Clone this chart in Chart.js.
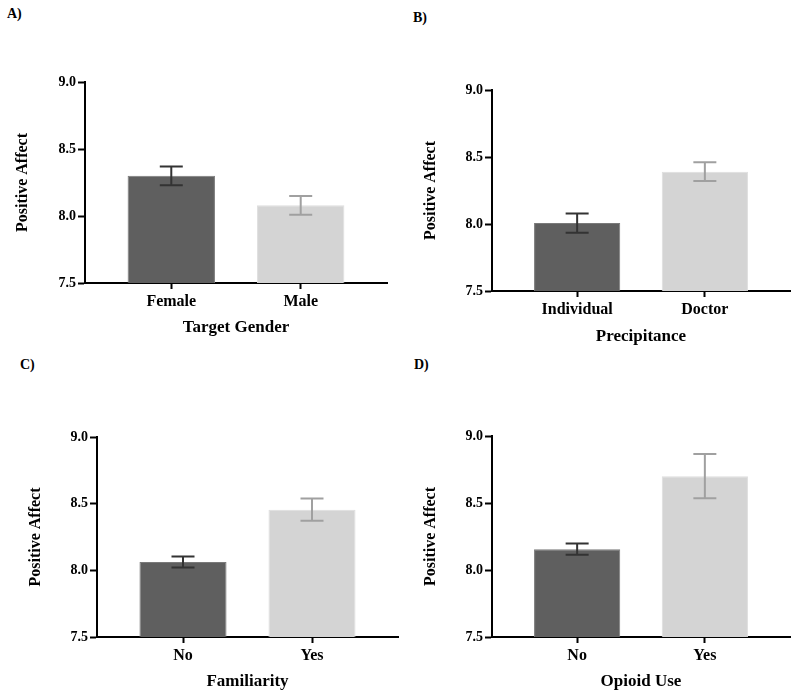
<!DOCTYPE html>
<html>
<head>
<meta charset="utf-8">
<script src="https://cdn.jsdelivr.net/npm/chart.js@4"></script>
<style>
  body { margin: 0; background: #fff; }
  #page { position: relative; width: 800px; height: 697px; }
  .panel { position: absolute; width: 400px; }
  .tag { position: absolute; font: bold 14px "Liberation Serif", serif; color: #000; }
</style>
</head>
<body>
<div id="page">
  <div class="tag" style="left:7px;top:6px">A)</div>
  <div class="tag" style="left:413px;top:10px">B)</div>
  <div class="tag" style="left:20px;top:357px">C)</div>
  <div class="tag" style="left:414px;top:357px">D)</div>
  <div class="panel" style="left:0;top:0;height:345px"><canvas id="chartA"></canvas></div>
  <div class="panel" style="left:400px;top:0;height:345px"><canvas id="chartB"></canvas></div>
  <div class="panel" style="left:0;top:345px;height:352px"><canvas id="chartC"></canvas></div>
  <div class="panel" style="left:400px;top:345px;height:352px"><canvas id="chartD"></canvas></div>
</div>
<script>
// values (mean +/- error)
const yTicks = [7.5, 8.0, 8.5, 9.0];

const genderLabels = ['Female', 'Male'];
const genderMeans = [8.30, 8.08];
const genderErrors = [0.07, 0.07];

const precipLabels = ['Individual', 'Doctor'];
const precipMeans = [8.007, 8.39];
const precipErrors = [0.072, 0.07];

const familiarLabels = ['No', 'Yes'];
const familiarMeans = [8.062, 8.455];
const familiarErrors = [0.041, 0.083];

const opioidLabels = ['No', 'Yes'];
const opioidMeans = [8.155, 8.70];
const opioidErrors = [0.042, 0.165];

const barColors = ['#5f5f5f', '#d4d4d4'];
const barEdges = ['#7a7a7a', '#dedede'];
const errColors = ['#333333', '#a0a0a0'];

const serif = '"Liberation Serif", "Times New Roman", serif';

// draws the mean +/- error whiskers over each bar
const errorBars = {
    id: 'errorBars',
    afterDatasetsDraw(chart, args, opts) {
        const ctx = chart.ctx;
        const yScale = chart.scales.y;
        const meta = chart.getDatasetMeta(0);
        const values = chart.data.datasets[0].data;
        meta.data.forEach((bar, i) => {
            const v = values[i].y;
            const top = yScale.getPixelForValue(v + opts.errors[i]);
            const bot = yScale.getPixelForValue(v - opts.errors[i]);
            const half = 11.5;
            ctx.save();
            ctx.strokeStyle = errColors[i];
            ctx.lineWidth = 2;
            ctx.beginPath();
            ctx.moveTo(bar.x, top);
            ctx.lineTo(bar.x, bot);
            ctx.moveTo(bar.x - half, top);
            ctx.lineTo(bar.x + half, top);
            ctx.moveTo(bar.x - half, bot);
            ctx.lineTo(bar.x + half, bot);
            ctx.stroke();
            ctx.restore();
        });
    }
};

// area = chart area inside the panel canvas, yTitleX / xTitleY = centres of the axis titles
function makePanel(id, cats, means, errors, xTitle, area, yTitleX, xTitleY, height) {
    const width = 400;
    new Chart(document.getElementById(id), {
        type: 'bar',
        data: {
            datasets: [{
                data: means.map((m, i) => ({ x: i, y: m })),
                backgroundColor: barColors,
                borderColor: barEdges,
                borderWidth: 1,
                categoryPercentage: 1,
                barPercentage: 0.675
            }]
        },
        options: {
            responsive: true,
            maintainAspectRatio: false,
            animation: false,
            events: [],
            layout: { padding: { left: 0, top: area.top, right: width - area.right, bottom: 0 } },
            plugins: {
                legend: { display: false },
                tooltip: { enabled: false },
                errorBars: { errors: errors }
            },
            scales: {
                x: {
                    type: 'linear',
                    bounds: 'data',
                    offset: false,
                    min: -2 / 3,
                    max: 5 / 3,
                    afterBuildTicks: (scale) => { scale.ticks = cats.map((c, i) => ({ value: i })); },
                    afterFit: (scale) => { scale.height = height - area.bottom; },
                    grid: { offset: false, drawOnChartArea: false, drawTicks: true, tickLength: 6, tickColor: '#000', tickWidth: 2 },
                    border: { display: true, color: '#000', width: 2 },
                    ticks: {
                        color: '#000',
                        padding: 3,
                        maxRotation: 0,
                        autoSkip: false,
                        font: { family: serif, size: 16, weight: 'bold' },
                        callback: (v) => cats[v]
                    },
                    title: {
                        display: true,
                        text: xTitle,
                        color: '#000',
                        font: { family: serif, size: 17, weight: 'bold' },
                        padding: { top: 0, bottom: height - xTitleY - 10.2 }
                    }
                },
                y: {
                    min: 7.5,
                    max: 9.0,
                    afterBuildTicks: (scale) => { scale.ticks = yTicks.map(v => ({ value: v })); },
                    afterFit: (scale) => { scale.width = area.left; },
                    grid: { drawOnChartArea: false, drawTicks: true, tickLength: 7, tickColor: '#000', tickWidth: 2 },
                    border: { display: true, color: '#000', width: 2 },
                    ticks: {
                        color: '#000',
                        padding: 2,
                        font: { family: serif, size: 14, weight: 'bold' },
                        callback: (v) => v.toFixed(1)
                    },
                    title: {
                        display: true,
                        text: 'Positive Affect',
                        color: '#000',
                        font: { family: serif, size: 16, weight: 'bold' },
                        padding: { top: yTitleX - 9.6, bottom: 0 }
                    }
                }
            }
        },
        plugins: [errorBars]
    });
}

makePanel('chartA', genderLabels, genderMeans, genderErrors, 'Target Gender',
    { left: 85, top: 82, right: 387, bottom: 283 }, 22.5, 328, 345);
makePanel('chartB', precipLabels, precipMeans, precipErrors, 'Precipitance',
    { left: 92, top: 90, right: 390, bottom: 291 }, 31, 337, 345);
makePanel('chartC', familiarLabels, familiarMeans, familiarErrors, 'Familiarity',
    { left: 97, top: 92, right: 398, bottom: 292 }, 36, 337, 352);
makePanel('chartD', opioidLabels, opioidMeans, opioidErrors, 'Opioid Use',
    { left: 92, top: 91, right: 390, bottom: 292 }, 30.5, 337, 352);
</script>
</body>
</html>
